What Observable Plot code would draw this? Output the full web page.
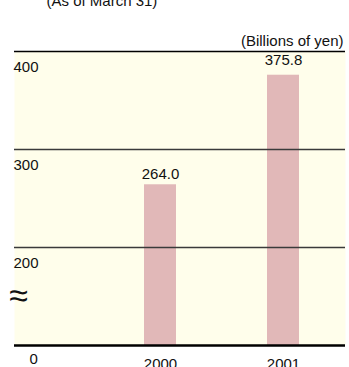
<!DOCTYPE html>
<html><head>
<meta charset="utf-8">
<script src="https://cdn.jsdelivr.net/npm/d3@7"></script>
<script src="https://cdn.jsdelivr.net/npm/@observablehq/plot@0.6"></script>
<style>body{margin:0;background:#fff}</style>
</head><body><div id="chart"></div>
<script>
const years = ["2000", "2001"];
const values = [264.0, 375.8];
const valueLabels = ["264.0", "375.8"];
const gridTicks = [400, 300, 200];
const tickLabels = ["400", "300", "200"];
const baseLabel = "0";
const unitLabel = "(Billions of yen)";
const title = "(As of March 31)";
const breakValue = 100; // axis break: the "0" baseline is drawn here
const breakSymbol = "≈";

const data = years.map((y, i) => ({year: y, value: values[i], label: valueLabels[i]}));
const ticks = gridTicks.map((v, i) => ({v, label: tickLabels[i]}));

const font = "'Liberation Sans', Arial, sans-serif";
const chart = Plot.plot({
  width: 349, height: 367,
  marginLeft: 14, marginRight: 4, marginTop: 51, marginBottom: 22,
  style: {fontFamily: font, fontSize: "15px", background: "#fff", color: "#111"},
  x: {type: "band", domain: years, range: [144, 299], paddingInner: 0.74, paddingOuter: 0, axis: null},
  y: {domain: [breakValue, 400], axis: null},
  marks: [
    Plot.frame({fill: "#fffeeb", stroke: null}),
    Plot.barY(data, {x: "year", y1: breakValue, y2: "value", fill: "#e1b8b8"}),
    Plot.ruleY([300, 200], {stroke: "#3a3a3a", strokeWidth: 1.5}),
    Plot.ruleY([400], {stroke: "#000", strokeWidth: 1.5}),
    Plot.ruleY([breakValue], {stroke: "#000", strokeWidth: 2.5}),
    Plot.text(ticks, {y: "v", text: "label", frameAnchor: "left", textAnchor: "start", lineAnchor: "bottom", dx: -1, dy: 20, fill: "#111"}),
    Plot.text([baseLabel], {y: () => breakValue, text: d => d, frameAnchor: "left", textAnchor: "start", lineAnchor: "bottom", dx: 15, dy: 18, fill: "#111"}),
    Plot.text([breakSymbol], {y: () => (breakValue + 200) / 2, text: d => d, frameAnchor: "left", textAnchor: "middle", dx: 4, dy: 0, fontSize: 34, fontWeight: 200, fontFamily: "'DejaVu Sans ExtraLight', 'DejaVu Sans', sans-serif", fill: "#111"}),
    Plot.text(data.filter(d => d.year === years[0]), {x: "year", y: "value", text: "label", lineAnchor: "bottom", dy: -6, fill: "#111"}),
    Plot.text(data.filter(d => d.year === years[1]), {x: "year", y: "value", text: "label", lineAnchor: "bottom", dy: -10, fill: "#111"}),
    Plot.text(years, {x: d => d, y: () => breakValue, text: d => d, lineAnchor: "bottom", dy: 23, fill: "#111"}),
    Plot.text([unitLabel], {y: () => 400, text: d => d, frameAnchor: "right", textAnchor: "end", lineAnchor: "bottom", dx: -2, dy: -6, fill: "#111"}),
    Plot.text([title], {text: d => d, frameAnchor: "top-left", textAnchor: "start", lineAnchor: "bottom", dx: 32, dy: -46, fill: "#111"})
  ]
});
document.getElementById("chart").append(chart);
</script>
</body></html>
